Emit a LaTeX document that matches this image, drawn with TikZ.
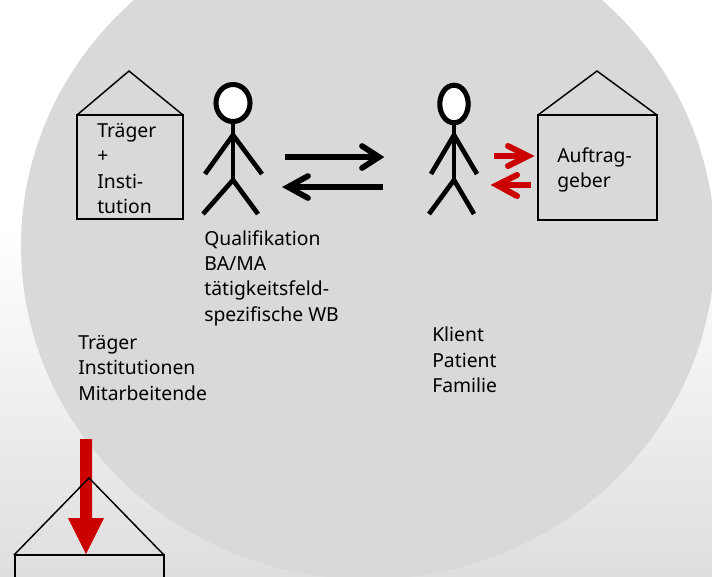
\documentclass[tikz,border=0pt]{standalone}
\usepackage{fontspec}
\setmainfont{Noto Sans}
\definecolor{disc}{HTML}{D9D9D9}
\definecolor{redc}{HTML}{CC0000}
\definecolor{bgend}{HTML}{DEDEDE}
\begin{document}
\begin{tikzpicture}[x=0.75pt,y=-0.75pt,
  roof/.style={draw=black,line width=1.1pt,line join=miter},
  wall/.style={draw=black,line width=1.45pt,line join=miter},
  stick/.style={draw=black,line width=3.5pt,line join=round},
  ring/.style={draw=black,line width=3.8pt,fill=white},
  bigarrow/.style={draw=black,line width=4.3pt},
  bighead/.style={draw=black,line width=4.3pt,line cap=round,line join=miter},
  redarrow/.style={draw=redc,line width=4.5pt},
  redhead/.style={draw=redc,line width=4.5pt,line cap=round,line join=miter},
  lbl/.style={font=\fontsize{14.5}{19}\selectfont,anchor=north west,align=left,inner sep=0pt,text=black}]
\useasboundingbox (0,0) rectangle (712,576);
\fill[white] (0,0) rectangle (712,576);
\shade[top color=white,bottom color=bgend] (0,230) rectangle (712,576);
\clip (0,0) rectangle (712,576);
\fill[disc] (368,246) ellipse[x radius=347,y radius=333];
% left house
\draw[wall] (77,115) rectangle (183,219);
\draw[roof] (77,115) -- (129,71) -- (183,115);
\node[lbl] (t1) at (97,123) {Träger\\+\\Insti-\\tution};
% left figure
\draw[ring] (233,103) ellipse[x radius=17,y radius=18.5];
\draw[stick] (233,123) -- (233,180);
\draw[stick] (205,174) -- (233,135) -- (262,174);
\draw[stick] (203,214) -- (233,180) -- (258,214);
% big arrows
\coordinate (a1) at (285,157); \coordinate (a2) at (379,157);
\coordinate (b1) at (383,187); \coordinate (b2) at (288,187);
\draw[bigarrow] (a1) -- (a2);
\draw[bighead] (362,146) -- (a2) -- (362,168);
\draw[bigarrow] (b1) -- (b2);
\draw[bighead] (308,176) -- (b2) -- (308,198);
% right figure
\draw[ring] (454,104) ellipse[x radius=14.2,y radius=18.8];
\draw[stick] (454,124) -- (454,180);
\draw[stick] (431,174) -- (454,135) -- (477,174);
\draw[stick] (429,214) -- (454,180) -- (474,214);
% red arrows
\coordinate (c1) at (494,156); \coordinate (c2) at (528,156);
\coordinate (d1) at (531,185); \coordinate (d2) at (497,185);
\draw[redarrow] (c1) -- (c2);
\draw[redhead] (508,146) -- (c2) -- (508,166);
\draw[redarrow] (d1) -- (d2);
\draw[redhead] (517,175) -- (d2) -- (517,196);
% right house
\draw[wall] (538,115) rectangle (657,220);
\draw[roof] (538,115) -- (597,71) -- (657,115);
\node[lbl] (t2) at (557,147) {Auftrag-\\geber};
% labels
\node[lbl] (t3) at (204,230) {Qualifikation\\BA/MA\\tätigkeitsfeld-\\spezifische WB};
\node[lbl] (t4) at (78,335) {Träger\\Institutionen\\Mitarbeitende};
\node[lbl] (t5) at (432,327) {Klient\\Patient\\Familie};
% bottom house
\fill[redc] (80,439) -- (92,439) -- (92,518) -- (104,518) -- (86,554) -- (68,518) -- (80,518) -- cycle;
\draw[roof] (14,555) -- (89,478) -- (164,555);
\draw[wall] (15,600) -- (15,555) -- (164,555) -- (164,600);
\end{tikzpicture}
\end{document}
